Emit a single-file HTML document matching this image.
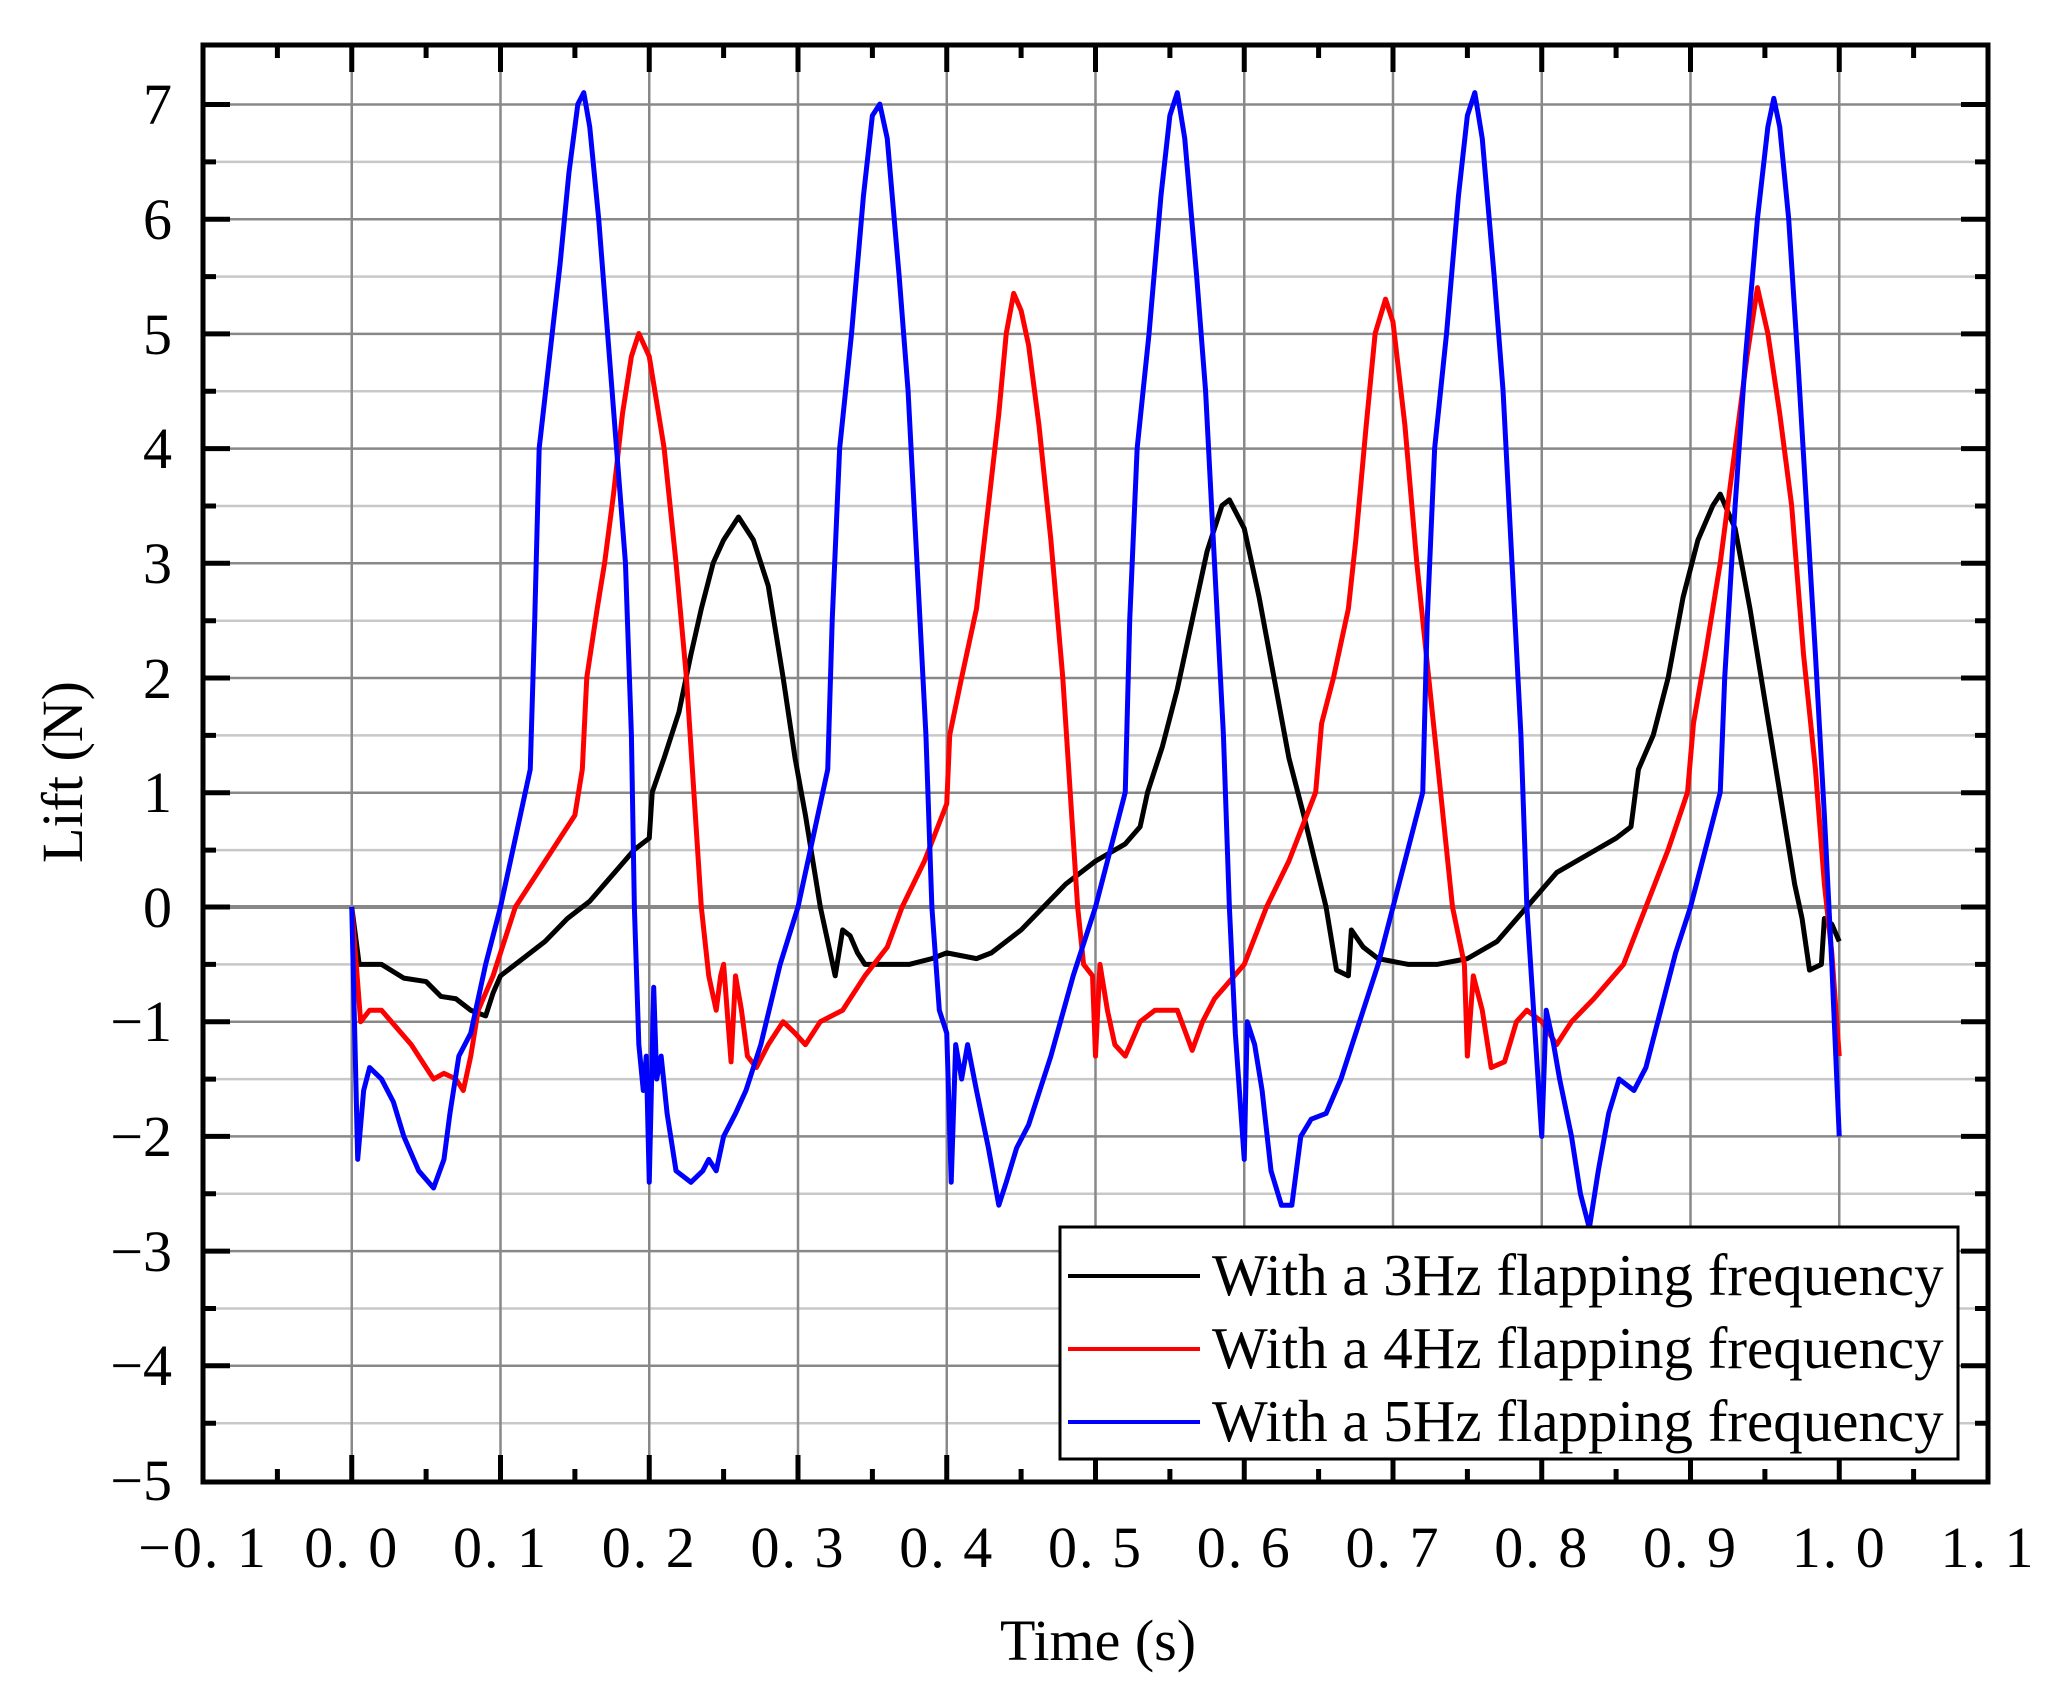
<!DOCTYPE html>
<html><head><meta charset="utf-8"><style>
html,body{margin:0;padding:0;background:#fff}
svg{display:block}
text{font-family:"Liberation Serif",serif;fill:#000}
</style></head><body>
<svg width="2060" height="1702" viewBox="0 0 2060 1702" xmlns="http://www.w3.org/2000/svg">
<rect width="2060" height="1702" fill="#fff"/>
<g stroke="#c8c8c8" stroke-width="2.5">
<line x1="203" x2="1988" y1="161.9" y2="161.9"/><line x1="203" x2="1988" y1="276.6" y2="276.6"/><line x1="203" x2="1988" y1="391.3" y2="391.3"/><line x1="203" x2="1988" y1="506" y2="506"/><line x1="203" x2="1988" y1="620.7" y2="620.7"/><line x1="203" x2="1988" y1="735.4" y2="735.4"/><line x1="203" x2="1988" y1="850.1" y2="850.1"/><line x1="203" x2="1988" y1="964.4" y2="964.4"/><line x1="203" x2="1988" y1="1079.1" y2="1079.1"/><line x1="203" x2="1988" y1="1193.8" y2="1193.8"/><line x1="203" x2="1988" y1="1308.5" y2="1308.5"/><line x1="203" x2="1988" y1="1423.2" y2="1423.2"/>
</g>
<g stroke="#888" stroke-width="2.5">
<line x1="203" x2="1988" y1="104.5" y2="104.5"/><line x1="203" x2="1988" y1="219.2" y2="219.2"/><line x1="203" x2="1988" y1="333.9" y2="333.9"/><line x1="203" x2="1988" y1="448.6" y2="448.6"/><line x1="203" x2="1988" y1="563.3" y2="563.3"/><line x1="203" x2="1988" y1="678" y2="678"/><line x1="203" x2="1988" y1="792.7" y2="792.7"/><line x1="203" x2="1988" y1="1021.7" y2="1021.7"/><line x1="203" x2="1988" y1="1136.4" y2="1136.4"/><line x1="203" x2="1988" y1="1251.1" y2="1251.1"/><line x1="203" x2="1988" y1="1365.8" y2="1365.8"/>
<line y1="45" y2="1482" x1="351.75" x2="351.75"/><line y1="45" y2="1482" x1="500.5" x2="500.5"/><line y1="45" y2="1482" x1="649.25" x2="649.25"/><line y1="45" y2="1482" x1="798" x2="798"/><line y1="45" y2="1482" x1="946.75" x2="946.75"/><line y1="45" y2="1482" x1="1095.5" x2="1095.5"/><line y1="45" y2="1482" x1="1244.25" x2="1244.25"/><line y1="45" y2="1482" x1="1393" x2="1393"/><line y1="45" y2="1482" x1="1541.75" x2="1541.75"/><line y1="45" y2="1482" x1="1690.5" x2="1690.5"/><line y1="45" y2="1482" x1="1839.25" x2="1839.25"/>
</g>
<line x1="203" x2="1988" y1="907" y2="907" stroke="#888" stroke-width="4"/>
<g transform="translate(351.75,907) scale(1487.5,-114.7)" fill="none" stroke-width="5" stroke-linejoin="round">
<polyline vector-effect="non-scaling-stroke" stroke="#000" points="0,0 0.005,-0.5 0.02,-0.5 0.035,-0.62 0.05,-0.65 0.06,-0.78 0.07,-0.8 0.08,-0.9 0.09,-0.95 0.095,-0.75 0.1,-0.6 0.115,-0.45 0.13,-0.3 0.145,-0.1 0.16,0.05 0.17,0.2 0.18,0.35 0.19,0.5 0.2,0.6 0.202,1.0 0.21,1.3 0.22,1.7 0.228,2.2 0.235,2.6 0.243,3.0 0.25,3.2 0.26,3.4 0.27,3.2 0.28,2.8 0.29,2.0 0.298,1.3 0.305,0.8 0.315,0 0.325,-0.6 0.33,-0.2 0.335,-0.25 0.34,-0.4 0.345,-0.5 0.36,-0.5 0.375,-0.5 0.39,-0.45 0.40,-0.4 0.42,-0.45 0.43,-0.4 0.45,-0.2 0.465,0 0.48,0.2 0.5,0.4 0.52,0.55 0.53,0.7 0.535,1.0 0.545,1.4 0.555,1.9 0.565,2.5 0.575,3.1 0.585,3.5 0.59,3.55 0.6,3.3 0.61,2.7 0.62,2.0 0.63,1.3 0.64,0.8 0.655,0 0.662,-0.55 0.67,-0.6 0.672,-0.2 0.68,-0.35 0.69,-0.45 0.71,-0.5 0.73,-0.5 0.75,-0.45 0.77,-0.3 0.79,0 0.81,0.3 0.83,0.45 0.85,0.6 0.86,0.7 0.865,1.2 0.875,1.5 0.885,2.0 0.895,2.7 0.905,3.2 0.915,3.5 0.92,3.6 0.93,3.3 0.94,2.6 0.95,1.8 0.96,1.0 0.97,0.2 0.975,-0.1 0.98,-0.55 0.988,-0.5 0.99,-0.1 0.995,-0.15 1.0,-0.3"/>
<polyline vector-effect="non-scaling-stroke" stroke="#f00" points="0,0 0.006,-1.0 0.012,-0.9 0.02,-0.9 0.03,-1.05 0.04,-1.2 0.05,-1.4 0.055,-1.5 0.062,-1.45 0.07,-1.5 0.075,-1.6 0.08,-1.3 0.085,-0.9 0.095,-0.6 0.11,0 0.13,0.4 0.15,0.8 0.155,1.2 0.158,2.0 0.165,2.6 0.17,3.0 0.176,3.6 0.182,4.3 0.188,4.8 0.193,5.0 0.2,4.8 0.205,4.4 0.21,4.0 0.218,3.0 0.225,2.0 0.23,1.0 0.235,0 0.24,-0.6 0.245,-0.9 0.248,-0.6 0.25,-0.5 0.255,-1.35 0.258,-0.6 0.262,-0.9 0.266,-1.3 0.272,-1.4 0.28,-1.2 0.29,-1.0 0.298,-1.1 0.305,-1.2 0.315,-1.0 0.33,-0.9 0.345,-0.6 0.36,-0.35 0.37,0 0.385,0.4 0.4,0.9 0.402,1.5 0.41,2.0 0.42,2.6 0.428,3.5 0.435,4.3 0.44,5.0 0.445,5.35 0.45,5.2 0.455,4.9 0.462,4.2 0.47,3.2 0.478,2.0 0.483,1.0 0.488,0 0.492,-0.5 0.498,-0.6 0.5,-1.3 0.503,-0.5 0.508,-0.9 0.513,-1.2 0.52,-1.3 0.53,-1.0 0.54,-0.9 0.555,-0.9 0.565,-1.25 0.572,-1.0 0.58,-0.8 0.6,-0.5 0.615,0 0.63,0.4 0.648,1.0 0.652,1.6 0.66,2.0 0.67,2.6 0.675,3.2 0.682,4.2 0.688,5.0 0.695,5.3 0.7,5.1 0.708,4.2 0.716,3.0 0.724,2.0 0.732,1.0 0.74,0 0.748,-0.5 0.75,-1.3 0.754,-0.6 0.76,-0.9 0.766,-1.4 0.775,-1.35 0.783,-1.0 0.79,-0.9 0.8,-1.0 0.81,-1.2 0.82,-1.0 0.835,-0.8 0.855,-0.5 0.87,0 0.885,0.5 0.898,1.0 0.902,1.6 0.91,2.2 0.92,3.0 0.93,4.0 0.938,4.8 0.945,5.4 0.952,5.0 0.96,4.3 0.968,3.5 0.976,2.2 0.984,1.2 0.99,0.2 0.995,-0.4 1.0,-1.3"/>
<polyline vector-effect="non-scaling-stroke" stroke="#00f" points="0,0 0.004,-2.2 0.008,-1.6 0.012,-1.4 0.02,-1.5 0.028,-1.7 0.035,-2.0 0.045,-2.3 0.055,-2.45 0.062,-2.2 0.066,-1.8 0.072,-1.3 0.08,-1.1 0.09,-0.5 0.1,0 0.11,0.6 0.12,1.2 0.123,2.5 0.126,4.0 0.133,4.8 0.14,5.6 0.146,6.4 0.152,7.0 0.156,7.1 0.16,6.8 0.166,6.0 0.172,5.0 0.178,4.0 0.184,3.0 0.188,1.5 0.19,0 0.193,-1.2 0.196,-1.6 0.198,-1.3 0.2,-2.4 0.203,-0.7 0.205,-1.5 0.208,-1.3 0.212,-1.8 0.218,-2.3 0.228,-2.4 0.236,-2.3 0.24,-2.2 0.245,-2.3 0.25,-2.0 0.258,-1.8 0.265,-1.6 0.275,-1.2 0.288,-0.5 0.3,0 0.31,0.6 0.32,1.2 0.323,2.5 0.328,4.0 0.336,5.0 0.344,6.2 0.35,6.9 0.355,7.0 0.36,6.7 0.368,5.5 0.374,4.5 0.38,3.0 0.386,1.5 0.39,0 0.395,-0.9 0.4,-1.1 0.403,-2.4 0.406,-1.2 0.41,-1.5 0.414,-1.2 0.42,-1.6 0.428,-2.1 0.435,-2.6 0.44,-2.4 0.447,-2.1 0.455,-1.9 0.46,-1.7 0.47,-1.3 0.485,-0.6 0.5,0 0.51,0.5 0.52,1.0 0.523,2.5 0.528,4.0 0.536,5.0 0.544,6.2 0.55,6.9 0.555,7.1 0.56,6.7 0.568,5.5 0.574,4.5 0.58,3.0 0.586,1.5 0.59,0 0.594,-1.1 0.6,-2.2 0.602,-1.0 0.607,-1.2 0.612,-1.6 0.618,-2.3 0.625,-2.6 0.632,-2.6 0.638,-2.0 0.645,-1.85 0.655,-1.8 0.665,-1.5 0.68,-0.9 0.69,-0.5 0.7,0 0.71,0.5 0.72,1.0 0.723,2.5 0.728,4.0 0.736,5.0 0.744,6.2 0.75,6.9 0.755,7.1 0.76,6.7 0.768,5.5 0.774,4.5 0.78,3.0 0.786,1.5 0.79,0 0.795,-1.0 0.8,-2.0 0.803,-0.9 0.808,-1.2 0.812,-1.5 0.82,-2.0 0.826,-2.5 0.832,-2.8 0.838,-2.3 0.845,-1.8 0.852,-1.5 0.862,-1.6 0.87,-1.4 0.88,-0.9 0.89,-0.4 0.9,0 0.91,0.5 0.92,1.0 0.923,2.0 0.93,3.5 0.937,4.8 0.945,6.0 0.952,6.8 0.956,7.05 0.96,6.8 0.966,6.0 0.972,4.8 0.978,3.5 0.984,2.2 0.99,0.8 0.995,-0.5 1.0,-2.0"/>
</g>
<g stroke="#000" stroke-width="5">
<path d="M351.75,1482v-27M500.5,1482v-27M649.25,1482v-27M798,1482v-27M946.75,1482v-27M1095.5,1482v-27M1244.25,1482v-27M1393,1482v-27M1541.75,1482v-27M1690.5,1482v-27M1839.25,1482v-27"/>
<path d="M277.4,1482v-13M426.1,1482v-13M574.9,1482v-13M723.6,1482v-13M872.4,1482v-13M1021.1,1482v-13M1169.9,1482v-13M1318.6,1482v-13M1467.4,1482v-13M1616.1,1482v-13M1764.9,1482v-13M1913.6,1482v-13"/>
<path d="M351.75,45v27M500.5,45v27M649.25,45v27M798,45v27M946.75,45v27M1095.5,45v27M1244.25,45v27M1393,45v27M1541.75,45v27M1690.5,45v27M1839.25,45v27"/>
<path d="M277.4,45v13M426.1,45v13M574.9,45v13M723.6,45v13M872.4,45v13M1021.1,45v13M1169.9,45v13M1318.6,45v13M1467.4,45v13M1616.1,45v13M1764.9,45v13M1913.6,45v13"/>
<path d="M203,104.5h27M203,219.2h27M203,333.9h27M203,448.6h27M203,563.3h27M203,678h27M203,792.7h27M203,907h27M203,1021.7h27M203,1136.4h27M203,1251.1h27M203,1365.8h27"/>
<path d="M203,161.9h13M203,276.6h13M203,391.3h13M203,506h13M203,620.7h13M203,735.4h13M203,850.1h13M203,964.4h13M203,1079.1h13M203,1193.8h13M203,1308.5h13M203,1423.2h13"/>
<path d="M1988,104.5h-27M1988,219.2h-27M1988,333.9h-27M1988,448.6h-27M1988,563.3h-27M1988,678h-27M1988,792.7h-27M1988,907h-27M1988,1021.7h-27M1988,1136.4h-27M1988,1251.1h-27M1988,1365.8h-27"/>
<path d="M1988,161.9h-13M1988,276.6h-13M1988,391.3h-13M1988,506h-13M1988,620.7h-13M1988,735.4h-13M1988,850.1h-13M1988,964.4h-13M1988,1079.1h-13M1988,1193.8h-13M1988,1308.5h-13M1988,1423.2h-13"/>
</g>
<rect x="203" y="45" width="1785" height="1437" fill="none" stroke="#000" stroke-width="5"/>
<rect x="1060" y="1227" width="898" height="232" fill="#fff" stroke="#000" stroke-width="3"/>
<g stroke-width="4"><line x1="1068" x2="1200" y1="1276" y2="1276" stroke="#000"/><line x1="1068" x2="1200" y1="1349" y2="1349" stroke="#f00"/><line x1="1068" x2="1200" y1="1422" y2="1422" stroke="#00f"/></g>
<g font-size="59"><text x="1212" y="1295">With a 3Hz flapping frequency</text><text x="1212" y="1368">With a 4Hz flapping frequency</text><text x="1212" y="1441">With a 5Hz flapping frequency</text></g>
<g font-size="58" text-anchor="end">
<text x="172" y="124">7</text><text x="172" y="239">6</text><text x="172" y="354">5</text><text x="172" y="468">4</text><text x="172" y="583">3</text><text x="172" y="698">2</text><text x="172" y="812">1</text><text x="172" y="927">0</text><text x="172" y="1041">−1</text><text x="172" y="1156">−2</text><text x="172" y="1271">−3</text><text x="172" y="1385">−4</text><text x="172" y="1500">−5</text>
</g>
<g font-size="58" text-anchor="middle" letter-spacing="2">
<text x="203" y="1567">−0. 1</text><text x="351.75" y="1567">0. 0</text><text x="500.5" y="1567">0. 1</text><text x="649.25" y="1567">0. 2</text><text x="798" y="1567">0. 3</text><text x="946.75" y="1567">0. 4</text><text x="1095.5" y="1567">0. 5</text><text x="1244.25" y="1567">0. 6</text><text x="1393" y="1567">0. 7</text><text x="1541.75" y="1567">0. 8</text><text x="1690.5" y="1567">0. 9</text><text x="1839.25" y="1567">1. 0</text><text x="1988" y="1567">1. 1</text>
</g>
<text x="1098" y="1660" font-size="58" text-anchor="middle">Time (s)</text>
<text transform="translate(82,772) rotate(-90)" font-size="58" text-anchor="middle">Lift (N)</text>
</svg>
</body></html>
